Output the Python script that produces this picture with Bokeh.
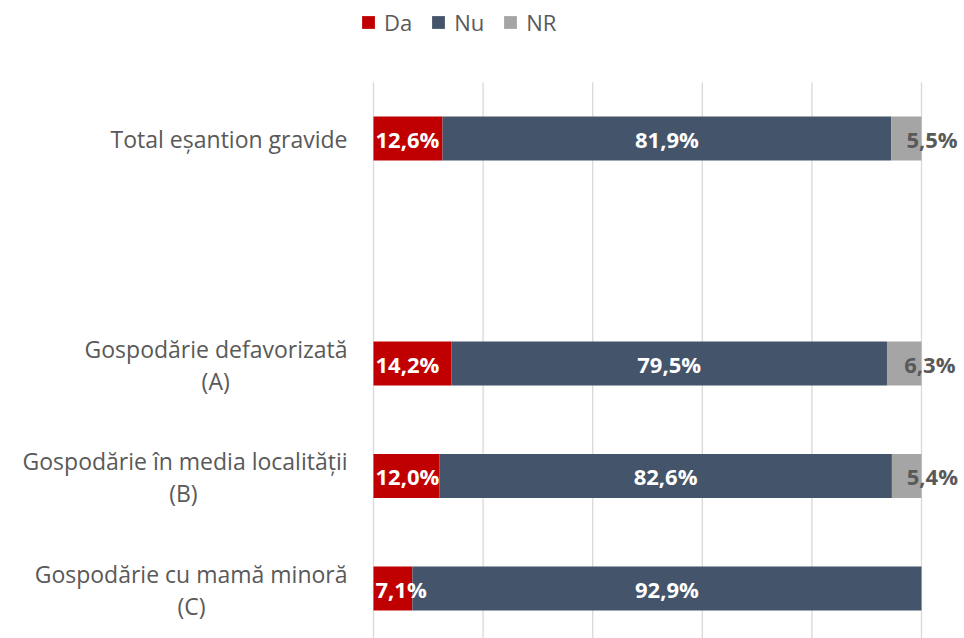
from bokeh.plotting import figure
from bokeh.models import ColumnDataSource, Range1d, Legend, LegendItem
from bokeh.embed import file_html
from bokeh.resources import INLINE
from bokeh.core.properties import value

# ---- data ----
rows = ["Total eșantion gravide", None,
        "Gospodărie defavorizată\n(A)",
        "Gospodărie în media localității\n(B)",
        "Gospodărie cu mamă minoră\n(C)"]
da = [12.6, None, 14.2, 12.0, 7.1]
nu = [81.9, None, 79.5, 82.6, 92.9]
nr = [5.5, None, 6.3, 5.4, 0.0]
series = ["Da", "Nu", "NR"]
grid_ticks = [0, 20, 40, 60, 80, 100]

# ---- layout / style ----
colors = {"Da": "#C00000", "Nu": "#44546A", "NR": "#A5A5A5"}
FONT = value("Open Sans")
W, H = 964, 638
PX = 5.48            # pixels per percent
X0 = 373             # pixel of 0 %
SLOT = 112.5         # pixels per row slot
FIRST = 138          # first row center from top
x_range = Range1d(-X0 / PX, (W - X0) / PX)
y_top = -FIRST / SLOT
y_bot = (H - FIRST) / SLOT
y_range = Range1d(y_bot, y_top)
line2_center = {2: -28.8, 3: -34.7, 4: -33.2}  # centers of 2nd label lines (percent units)

p = figure(width=W, height=H, x_range=x_range, y_range=y_range,
           output_backend="svg", toolbar_location=None, min_border=0,
           x_axis_location=None, y_axis_location=None)
p.outline_line_color = None
for g in p.grid:
    g.visible = False
p.background_fill_color = "white"

# gridlines
p.segment(x0=grid_ticks, x1=grid_ticks, y0=[-0.5] * len(grid_ticks),
          y1=[y_bot] * len(grid_ticks), line_color="#D9D9D9", line_width=1.3)

idx = [i for i, r in enumerate(rows) if r is not None]
vals = {"Da": [da[i] for i in idx], "Nu": [nu[i] for i in idx], "NR": [nr[i] for i in idx]}

left = [0.0] * len(idx)
renderers = {}
segs = {}
for s in series:
    right = [l + v for l, v in zip(left, vals[s])]
    src = ColumnDataSource(dict(y=idx, left=left, right=right))
    renderers[s] = p.hbar(y="y", left="left", right="right", height=0.39,
                          source=src, fill_color=colors[s], line_color=None)
    segs[s] = (left, right)
    left = right

def fmt(v):
    return f"{v:.1f}".replace(".", ",") + "%"

LBL = "22px"
# Da labels: start at bar base
l, r = segs["Da"]
p.text(x=l, y=idx, text=[fmt(v) for v in vals["Da"]], x_offset=2,
       text_align="left", text_baseline="middle", text_font=FONT,
       text_font_style="bold", text_font_size=LBL, text_color="white")
# Nu labels: centered
l, r = segs["Nu"]
p.text(x=[(a + b) / 2 for a, b in zip(l, r)], y=idx, text=[fmt(v) for v in vals["Nu"]],
       text_align="center", text_baseline="middle", text_font=FONT,
       text_font_style="bold", text_font_size=LBL, text_color="white")
# NR labels
l, r = segs["NR"]
nr_x, nr_y, nr_t = [], [], []
for a, b, y, v in zip(l, r, idx, vals["NR"]):
    if v > 0:
        nr_x.append((a + b) / 2); nr_y.append(y); nr_t.append(fmt(v))
p.text(x=nr_x, y=nr_y, text=nr_t, text_align="left", text_baseline="middle",
       text_font=FONT, text_font_style="bold", text_font_size=LBL,
       text_color="#595959")

# category labels
CAT = "23px"
lab_x = -26 / PX
for i in idx:
    parts = rows[i].split("\n")
    if len(parts) == 1:
        p.text(x=[lab_x], y=[i], text=[parts[0]], text_align="right",
               text_baseline="middle", text_font=FONT, text_font_size=CAT,
               text_color="#595959")
    else:
        p.text(x=[lab_x], y=[i - 0.13], text=[parts[0]], text_align="right",
               text_baseline="middle", text_font=FONT, text_font_size=CAT,
               text_color="#595959")
        p.text(x=[line2_center[i]], y=[i + 0.155], text=[parts[1]], text_align="center",
               text_baseline="middle", text_font=FONT, text_font_size=CAT,
               text_color="#595959")

legend = Legend(items=[LegendItem(label=s, renderers=[renderers[s]]) for s in series],
                orientation="horizontal", location=(360, 601))
legend.background_fill_alpha = 0
legend.border_line_color = None
legend.label_text_font = "Open Sans"
legend.label_text_font_size = "22px"
legend.label_text_color = "#595959"
legend.glyph_width = 16
legend.glyph_height = 16
legend.label_standoff = 8
legend.spacing = 18
legend.padding = 0
legend.margin = 0
p.add_layout(legend)

open("out.html", "w").write(file_html(p, INLINE))
